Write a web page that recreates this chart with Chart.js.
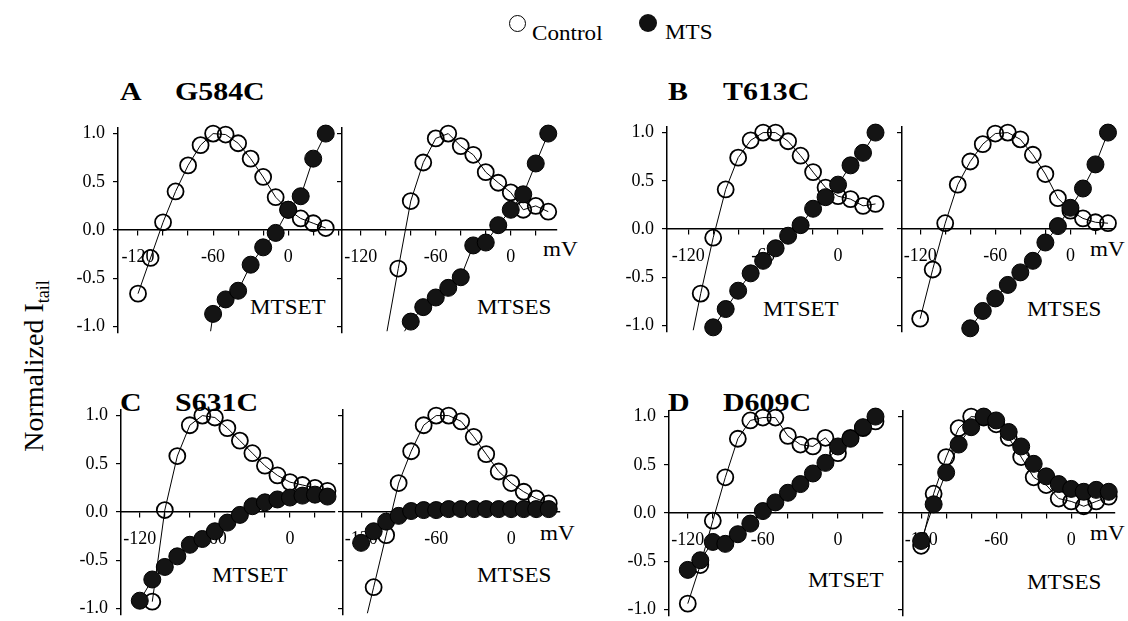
<!DOCTYPE html>
<html>
<head>
<meta charset="utf-8">
<script src="https://cdn.jsdelivr.net/npm/chart.js@4.4.0/dist/chart.umd.min.js"></script>
<style>
  body { margin: 0; background: #fff; width: 1128px; height: 621px; position: relative; overflow: hidden;
         font-family: "Liberation Serif", "Times New Roman", serif; color: #000; }
  canvas { position: absolute; }
  .t { position: absolute; white-space: nowrap; line-height: 1; transform-origin: 0 0; }
  .lab { font-size: 21px; transform: scaleX(1.1); }
  .ttl { font-size: 26px; font-weight: bold; transform: scaleX(1.15); }
  .leg { font-size: 22px; transform: scaleX(1.05); }
  .dot { position: absolute; border-radius: 50%; box-sizing: border-box; }
</style>
</head>
<body>

<!-- legend -->
<div class="dot" style="left:509px;top:15px;width:17px;height:17px;border:1.8px solid #000;"></div>
<div class="t leg" style="left:532px;top:21.6px;">Control</div>
<div class="dot" style="left:639px;top:14px;width:18px;height:18px;background:#111;"></div>
<div class="t leg" style="left:665px;top:20.6px;">MTS</div>

<!-- panel titles -->
<div class="t ttl" style="left:120px;top:79px;">A</div>
<div class="t ttl" style="left:175px;top:79px;">G584C</div>
<div class="t ttl" style="left:668px;top:79px;">B</div>
<div class="t ttl" style="left:723px;top:79px;">T613C</div>
<div class="t ttl" style="left:120px;top:390px;">C</div>
<div class="t ttl" style="left:175px;top:390px;">S631C</div>
<div class="t ttl" style="left:668px;top:390px;">D</div>
<div class="t ttl" style="left:723px;top:390px;">D609C</div>

<!-- y title -->
<div class="t" style="left:36px;top:366px;font-size:28px;transform:translate(-50%,-50%) rotate(-90deg);transform-origin:50% 50%;">Normalized I<sub style="font-size:18px;">tail</sub></div>

<script>
// voltage steps (mV)
var vFrom120 = [-120, -110, -100, -90, -80, -70, -60, -50, -40, -30, -20, -10, 0, 10, 20, 30];
var vFrom110 = [-110, -100, -90, -80, -70, -60, -50, -40, -30, -20, -10, 0, 10, 20, 30];
var vFrom100 = [-100, -90, -80, -70, -60, -50, -40, -30, -20, -10, 0, 10, 20, 30];
var vFrom90 = [-90, -80, -70, -60, -50, -40, -30, -20, -10, 0, 10, 20, 30];
var vFrom80 = [-80, -70, -60, -50, -40, -30, -20, -10, 0, 10, 20, 30];
var vFrom60 = [-60, -50, -40, -30, -20, -10, 0, 10, 20, 30];

// normalized tail currents
// A  G584C
var ctlA1 = [-0.66, -0.29, 0.08, 0.40, 0.67, 0.88, 1.0, 0.99, 0.90, 0.74, 0.55, 0.34, 0.21, 0.12, 0.07, 0.02];
var mtsA1 = [-0.87, -0.72, -0.63, -0.36, -0.18, -0.03, 0.21, 0.35, 0.74, 1.0];
var ctlA2 = [-0.40, 0.30, 0.70, 0.95, 1.0, 0.87, 0.78, 0.60, 0.49, 0.39, 0.21, 0.25, 0.19];
var mtsA2 = [-0.95, -0.80, -0.70, -0.60, -0.49, -0.16, -0.13, 0.05, 0.21, 0.37, 0.69, 1.0];
// B  T613C
var ctlB1 = [-0.67, -0.09, 0.41, 0.74, 0.92, 1.0, 1.0, 0.91, 0.76, 0.59, 0.43, 0.34, 0.31, 0.24, 0.26];
var mtsB1 = [-1.02, -0.83, -0.64, -0.46, -0.33, -0.20, -0.07, 0.04, 0.21, 0.33, 0.46, 0.66, 0.79, 1.0];
var ctlB2 = [-0.93, -0.42, 0.06, 0.46, 0.70, 0.88, 0.99, 1.0, 0.93, 0.77, 0.57, 0.32, 0.19, 0.11, 0.07, 0.06];
var mtsB2 = [-1.03, -0.85, -0.72, -0.58, -0.45, -0.33, -0.14, 0.03, 0.22, 0.42, 0.67, 1.0];
// C  S631C
var ctlC1 = [-0.93, 0.02, 0.58, 0.90, 1.0, 0.98, 0.87, 0.74, 0.61, 0.48, 0.38, 0.31, 0.28, 0.25, 0.22];
var mtsC1 = [-0.92, -0.70, -0.57, -0.46, -0.34, -0.28, -0.20, -0.11, -0.03, 0.06, 0.10, 0.13, 0.15, 0.17, 0.18, 0.16];
var ctlC2 = [-0.78, -0.24, 0.30, 0.63, 0.90, 1.0, 1.0, 0.94, 0.78, 0.60, 0.42, 0.30, 0.21, 0.14, 0.09];
var mtsC2 = [-0.32, -0.20, -0.10, -0.04, 0.01, 0.02, 0.02, 0.03, 0.03, 0.03, 0.03, 0.03, 0.03, 0.03, 0.03, 0.03];
// D  D609C
var ctlD1 = [-0.94, -0.54, -0.08, 0.37, 0.77, 0.96, 0.99, 0.99, 0.80, 0.71, 0.69, 0.78, 0.62, 0.78, 0.88, 0.95];
var mtsD1 = [-0.59, -0.49, -0.30, -0.32, -0.22, -0.11, 0.02, 0.11, 0.21, 0.30, 0.41, 0.52, 0.69, 0.77, 0.89, 1.0];
var ctlD2 = [-0.34, 0.20, 0.58, 0.88, 1.0, 0.99, 0.92, 0.78, 0.58, 0.37, 0.29, 0.15, 0.12, 0.07, 0.12, 0.17];
var mtsD2 = [-0.29, 0.09, 0.42, 0.71, 0.89, 1.0, 0.96, 0.84, 0.69, 0.51, 0.38, 0.30, 0.25, 0.22, 0.24, 0.22];

// where the fitted lines run on past the first point (mV, I)
var tailCtlA2 = [-99, -1.05];
var tailCtlB1 = [-116, -1.05];
var tailCtlC2 = [-115, -1.05];
var tailMtsA1 = [-62, -1.05];
var tailMtsA2 = [-85, -1.05];

// tick positions
var xTicks = [-120, -100, -80, -60, -40, -20, 0, 20, 40];
var yTicks = [-1.0, -0.5, 0.0, 0.5, 1.0];

var FONT = '"Liberation Serif", "Times New Roman", serif';
var PX_MV = 1.25, PX_I = 101, PAD = 14, Y_MIN = -1.06, Y_MAX = 1.06;

var panels = [
  {ctlV: vFrom120, ctlI: ctlA1, mtsV: vFrom60, mtsI: mtsA1, ctlTail: null, mtsTail: tailMtsA1, left: 118, y0: 230.5, xMin: -136, xMax: 43, labels: true},
  {ctlV: vFrom90, ctlI: ctlA2, mtsV: vFrom80, mtsI: mtsA2, ctlTail: tailCtlA2, mtsTail: tailMtsA2, left: 342, y0: 230.5, xMin: -135, xMax: 37, labels: false},
  {ctlV: vFrom110, ctlI: ctlB1, mtsV: vFrom100, mtsI: mtsB1, ctlTail: tailCtlB1, mtsTail: null, left: 667, y0: 229.5, xMin: -137, xMax: 36, labels: true},
  {ctlV: vFrom120, ctlI: ctlB2, mtsV: vFrom80, mtsI: mtsB2, ctlTail: null, mtsTail: null, left: 902, y0: 229.5, xMin: -134.5, xMax: 34, labels: false},
  {ctlV: vFrom110, ctlI: ctlC1, mtsV: vFrom120, mtsI: mtsC1, ctlTail: null, mtsTail: null, left: 121, y0: 512, xMin: -135, xMax: 36, labels: true},
  {ctlV: vFrom110, ctlI: ctlC2, mtsV: vFrom120, mtsI: mtsC2, ctlTail: tailCtlC2, mtsTail: null, left: 343, y0: 512, xMin: -134.5, xMax: 39, labels: false},
  {ctlV: vFrom120, ctlI: ctlD1, mtsV: vFrom120, mtsI: mtsD1, ctlTail: null, mtsTail: null, left: 669, y0: 513, xMin: -135, xMax: 36, labels: true},
  {ctlV: vFrom120, ctlI: ctlD2, mtsV: vFrom120, mtsI: mtsD2, ctlTail: null, mtsTail: null, left: 903, y0: 513, xMin: -134.5, xMax: 35, labels: false}
];

// text inside the panels
var notes = [
  ['MTSET', 250, 297], ['MTSES', 477, 297], ['mV', 543, 239],
  ['MTSET', 763, 299], ['MTSES', 1027, 299], ['mV', 1090, 239],
  ['MTSET', 212, 565], ['MTSES', 477, 565], ['mV', 540, 523],
  ['MTSET', 808, 570], ['MTSES', 1027, 572], ['mV', 1090, 523]
];
notes.forEach(function (n) {
  var d = document.createElement('div');
  d.className = 't lab';
  d.textContent = n[0];
  d.style.left = n[1] + 'px';
  d.style.top = n[2] + 'px';
  document.body.appendChild(d);
});

function pts(xs, ys) {
  return xs.map(function (x, i) { return {x: x, y: ys[i]}; });
}

function tailSet(tail, xs, ys) {
  return {
    data: [{x: tail[0], y: tail[1]}, {x: xs[0], y: ys[0]}],
    showLine: true, borderColor: '#000', borderWidth: 1, pointRadius: 0, clip: false, order: 3
  };
}

function drawPanel(p) {
  var yw = p.labels ? 44 : 0;
  var cw = Math.round(PAD * 2 + yw + (p.xMax - p.xMin) * PX_MV);
  var ch = Math.round(PAD * 2 + (Y_MAX - Y_MIN) * PX_I);
  var canvas = document.createElement('canvas');
  canvas.width = cw;
  canvas.height = ch;
  canvas.style.width = cw + 'px';
  canvas.style.height = ch + 'px';
  canvas.style.left = (p.left - PAD - yw) + 'px';
  canvas.style.top = (p.y0 - Y_MAX * PX_I - PAD) + 'px';
  document.body.appendChild(canvas);

  var datasets = [
    {
      label: 'MTS', data: pts(p.mtsV, p.mtsI), showLine: true,
      borderColor: '#000', borderWidth: 1,
      pointRadius: 8.5, pointBorderWidth: 1, pointBorderColor: '#000', pointBackgroundColor: '#141414',
      clip: false, order: 1
    },
    {
      label: 'Control', data: pts(p.ctlV, p.ctlI), showLine: true,
      borderColor: '#000', borderWidth: 1,
      pointRadius: 8, pointBorderWidth: 1.8, pointBorderColor: '#000', pointBackgroundColor: 'rgba(0,0,0,0)',
      clip: false, order: 2
    }
  ];
  if (p.ctlTail) datasets.push(tailSet(p.ctlTail, p.ctlV, p.ctlI));
  if (p.mtsTail) datasets.push(tailSet(p.mtsTail, p.mtsV, p.mtsI));

  new Chart(canvas, {
    type: 'scatter',
    data: {datasets: datasets},
    options: {
      responsive: false,
      animation: false,
      devicePixelRatio: 1,
      layout: {padding: PAD},
      plugins: {legend: {display: false}, tooltip: {enabled: false}},
      scales: {
        x: {
          type: 'linear', min: p.xMin, max: p.xMax, position: {y: 0},
          border: {display: true, color: '#000', width: 1.5},
          grid: {display: true, drawOnChartArea: false, drawTicks: true, tickLength: 5, color: '#000', lineWidth: 1.2},
          ticks: {
            autoSkip: false, maxRotation: 0, padding: 11, color: '#000',
            font: {family: FONT, size: 18},
            callback: function (v) { return v % 60 === 0 ? String(v) : ''; }
          },
          afterBuildTicks: function (s) {
            s.ticks = xTicks.filter(function (v) { return v >= p.xMin && v <= p.xMax; })
              .map(function (v) { return {value: v}; });
          },
          afterFit: function (s) { s.height = 0; }
        },
        y: {
          type: 'linear', min: Y_MIN, max: Y_MAX, position: 'left',
          border: {display: true, color: '#000', width: 1.5},
          grid: {display: true, drawOnChartArea: false, drawTicks: true, tickLength: 5, color: '#000', lineWidth: 1.2},
          ticks: {
            autoSkip: false, padding: 8, color: '#000',
            font: {family: FONT, size: 18},
            callback: function (v) { return p.labels ? v.toFixed(1) : ''; }
          },
          afterBuildTicks: function (s) {
            s.ticks = yTicks.map(function (v) { return {value: v}; });
          },
          afterFit: function (s) { s.width = yw; }
        }
      }
    }
  });
}

panels.forEach(drawPanel);
</script>
</body>
</html>
